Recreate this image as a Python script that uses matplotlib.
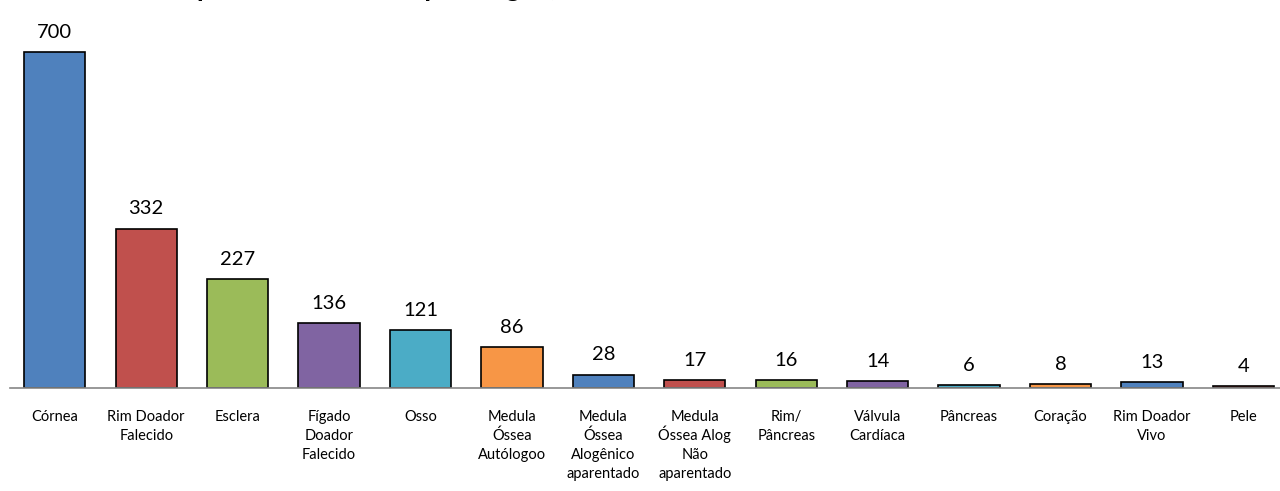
import matplotlib.pyplot as plt
import numpy as np

plt.rcParams['font.family'] = ['Lato', 'DejaVu Sans']

# Data
categorias = ['Córnea', 'Rim Doador\nFalecido', 'Esclera', 'Fígado\nDoador\nFalecido', 'Osso',
              'Medula\nÓssea\nAutólogoo', 'Medula\nÓssea\nAlogênico\naparentado',
              'Medula\nÓssea Alog\nNão\naparentado', 'Rim/\nPâncreas', 'Válvula\nCardíaca',
              'Pâncreas', 'Coração', 'Rim Doador\nVivo', 'Pele']
valores = [700, 332, 227, 136, 121, 86, 28, 17, 16, 14, 6, 8, 13, 4]
paleta = ['#4F81BD', '#C0504D', '#9BBB59', '#8064A2', '#4BACC6', '#F79646']
cores = [paleta[i % len(paleta)] for i in range(len(valores))]

fig = plt.figure(figsize=(12.8, 4.91), dpi=100)
ax = fig.add_axes([10 / 1280, 103 / 491, 1270 / 1280, 388 / 491])

x = np.arange(len(valores))
barras = ax.bar(x, valores, width=0.67, color=cores, edgecolor='black', linewidth=1.2)

# value labels above each bar
for xi, v in zip(x, valores):
    ax.annotate(str(v), (xi, v), xytext=(0, 8), textcoords='offset points',
                ha='center', va='bottom', fontsize=14.5)

ax.set_xlim(-0.49, 13.4)
ax.set_ylim(0, 808)
ax.set_xticks(x)
ax.set_xticklabels([])
ax.tick_params(axis='x', length=0)
ax.set_yticks([])

# category labels, one line at a time so every line keeps the same spacing
px = 72 / 100
for xi, nome in zip(x, categorias):
    for j, linha in enumerate(nome.split('\n')):
        ax.annotate(linha, (xi, 0), xytext=(0, -(33 + 19 * j) * px), textcoords='offset points',
                    ha='center', va='baseline', fontsize=10.5, annotation_clip=False)

for s in ['top', 'left', 'right']:
    ax.spines[s].set_visible(False)
ax.spines['bottom'].set_color('#868686')
ax.spines['bottom'].set_linewidth(1.2)

# title, cut off at the top edge as in the reference (only descenders show)
fig.text(0.1, 1.0 + 4 / 491, 'Transplantes realizados por Órgão, 2010', fontsize=20,
         fontweight='bold', ha='left', va='baseline')

fig.savefig('out.png', dpi=100)
